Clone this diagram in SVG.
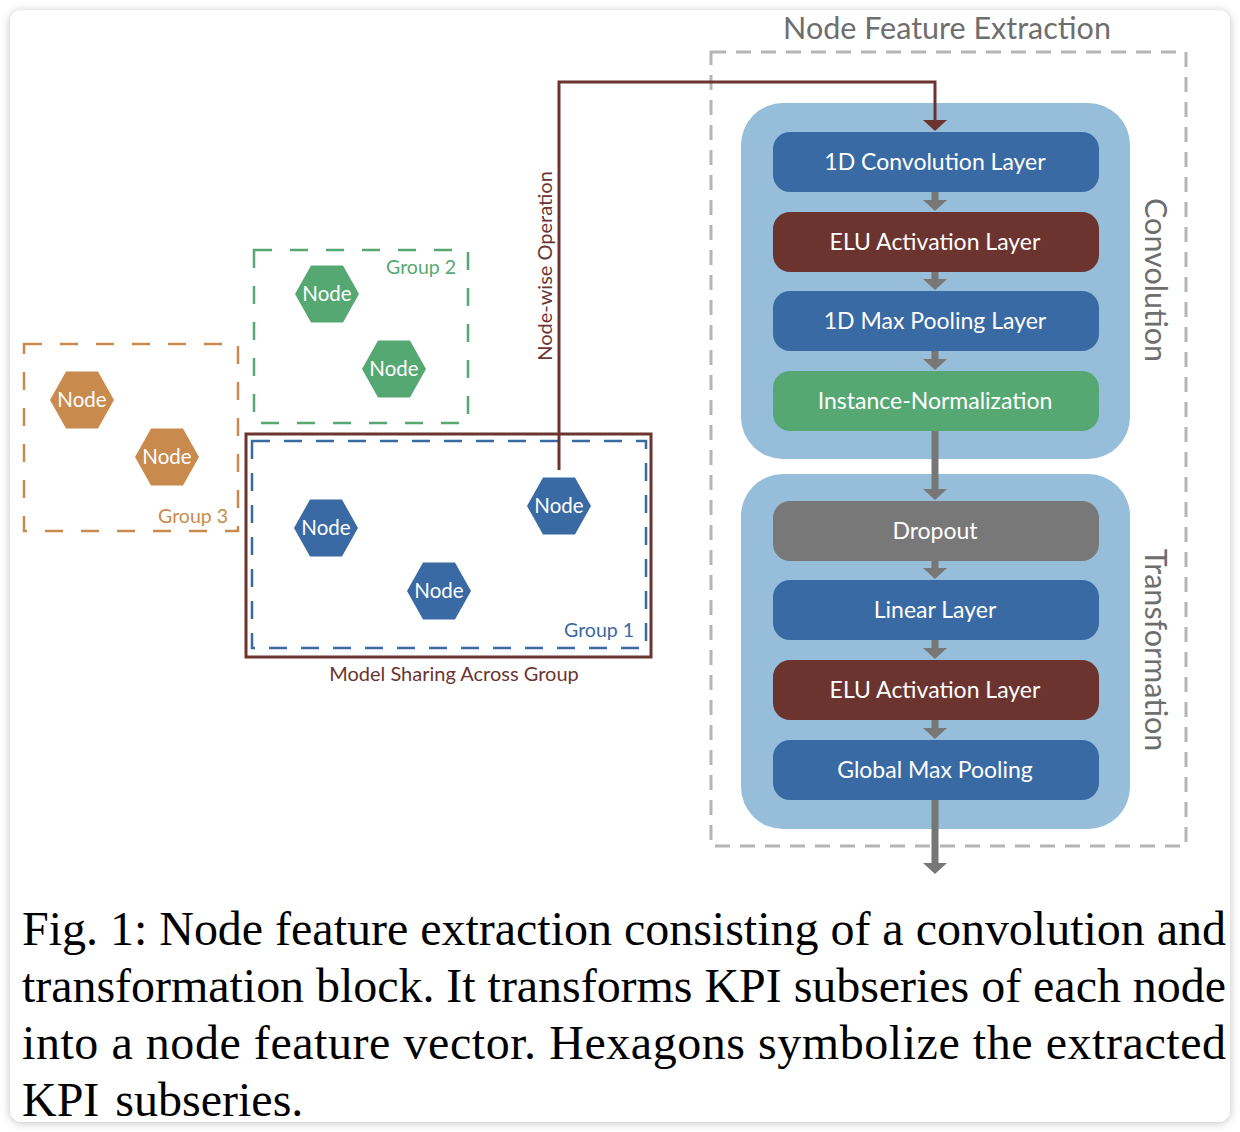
<svg xmlns="http://www.w3.org/2000/svg" width="1240" height="1132" viewBox="0 0 1240 1132">
<defs>
<filter id="sh" x="-5%" y="-5%" width="110%" height="110%">
<feDropShadow dx="0" dy="1" stdDeviation="4" flood-color="#000" flood-opacity="0.25"/>
</filter>
<style>
.ui{font-family:Lato,"Open Sans","DejaVu Sans",sans-serif;}
.lay{font-family:Lato,"Open Sans",sans-serif;font-size:23px;fill:#fff;text-anchor:middle;}
.hx{font-family:Lato,"Open Sans",sans-serif;font-size:20.5px;fill:#fff;text-anchor:middle;}
.blue{fill:#3a6aa3;}
.maroon{fill:#6b342f;}
.green{fill:#56a873;}
.gray{fill:#787878;}
.orange{fill:#c98a4e;}
.blk{fill:#96bdd9;}
.arr{fill:#777777;}
.cap{font-family:"Liberation Serif","Times New Roman",serif;font-size:48px;fill:#000;}
</style>
</defs>
<rect x="0" y="0" width="1240" height="1132" fill="#ffffff"/>
<rect x="10" y="10" width="1220" height="1112" rx="12" fill="#ffffff" filter="url(#sh)"/>

<!-- Node Feature Extraction container -->
<g id="nfe">
<rect x="711" y="52" width="475" height="794" fill="none" stroke="#b5b5b5" stroke-width="3" stroke-dasharray="15 10"/>
<text class="ui" x="947" y="39" font-size="30.5" fill="#6e6e6e" text-anchor="middle">Node Feature Extraction</text>
</g>

<g id="conv-block">
<rect class="blk" x="741" y="103" width="389" height="356" rx="42"/>
<text class="ui" font-size="30.5" fill="#6e6e6e" transform="translate(1145,280) rotate(90)" text-anchor="middle">Convolution</text>
</g>
<g id="trans-block">
<rect class="blk" x="741" y="474" width="389" height="355" rx="42"/>
<text class="ui" font-size="30.5" fill="#6e6e6e" transform="translate(1145,650) rotate(90)" text-anchor="middle">Transformation</text>
</g>

<g id="L1"><rect class="blue" x="773" y="132" width="326" height="60" rx="17"/><text class="lay" x="935" y="170">1D Convolution Layer</text></g>
<g id="L2"><rect class="maroon" x="773" y="212" width="326" height="60" rx="17"/><text class="lay" x="935" y="250">ELU Activation Layer</text></g>
<g id="L3"><rect class="blue" x="773" y="291" width="326" height="60" rx="17"/><text class="lay" x="935" y="329">1D Max Pooling Layer</text></g>
<g id="L4"><rect class="green" x="773" y="371" width="326" height="60" rx="17"/><text class="lay" x="935" y="409">Instance-Normalization</text></g>
<g id="L5"><rect class="gray" x="773" y="501" width="326" height="60" rx="17"/><text class="lay" x="935" y="539">Dropout</text></g>
<g id="L6"><rect class="blue" x="773" y="580" width="326" height="60" rx="17"/><text class="lay" x="935" y="618">Linear Layer</text></g>
<g id="L7"><rect class="maroon" x="773" y="660" width="326" height="60" rx="17"/><text class="lay" x="935" y="698">ELU Activation Layer</text></g>
<g id="L8"><rect class="blue" x="773" y="740" width="326" height="60" rx="17"/><text class="lay" x="935" y="778">Global Max Pooling</text></g>

<!-- Groups -->
<g id="group3">
<rect x="24" y="344" width="214" height="187" fill="none" stroke="#c98a4e" stroke-width="2.5" stroke-dasharray="18 18"/>
<text class="ui" x="228" y="523" font-size="19.5" fill="#c98a4e" text-anchor="end">Group 3</text>
</g>
<g id="group2">
<rect x="254" y="250" width="214" height="173" fill="none" stroke="#56a873" stroke-width="2.5" stroke-dasharray="18 18"/>
<text class="ui" x="456" y="274" font-size="19.5" fill="#56a873" text-anchor="end">Group 2</text>
</g>
<g id="sharing">
<rect x="246" y="434" width="405" height="223" fill="none" stroke="#6b342f" stroke-width="3"/>
<text class="ui" x="454" y="681" font-size="20" fill="#6b342f" text-anchor="middle">Model Sharing Across Group</text>
</g>
<g id="group1">
<rect x="252" y="441" width="394" height="207" fill="none" stroke="#3a6aa3" stroke-width="2.5" stroke-dasharray="18 14"/>
<text class="ui" x="634" y="637" font-size="19.5" fill="#3a6aa3" text-anchor="end">Group 1</text>
</g>

<!-- Hexagon nodes -->
<g id="n-g2a"><polygon class="green" points="295,294 311,265.5 343,265.5 359,294 343,322.5 311,322.5"/><text class="hx" x="327" y="301">Node</text></g>
<g id="n-g2b"><polygon class="green" points="362,369 378,340.5 410,340.5 426,369 410,397.5 378,397.5"/><text class="hx" x="394" y="376">Node</text></g>
<g id="n-g3a"><polygon class="orange" points="50,400 66,371.5 98,371.5 114,400 98,428.5 66,428.5"/><text class="hx" x="82" y="407">Node</text></g>
<g id="n-g3b"><polygon class="orange" points="135,457 151,428.5 183,428.5 199,457 183,485.5 151,485.5"/><text class="hx" x="167" y="464">Node</text></g>
<g id="n-g1a"><polygon class="blue" points="294,528 310,499.5 342,499.5 358,528 342,556.5 310,556.5"/><text class="hx" x="326" y="535">Node</text></g>
<g id="n-g1b"><polygon class="blue" points="407,591 423,562.5 455,562.5 471,591 455,619.5 423,619.5"/><text class="hx" x="439" y="598">Node</text></g>
<g id="n-g1c"><polygon class="blue" points="527,506 543,477.5 575,477.5 591,506 575,534.5 543,534.5"/><text class="hx" x="559" y="513">Node</text></g>

<!-- Connectors -->
<g id="connectors">
<polyline points="559,470 559,82 935,82 935,121" fill="none" stroke="#6b342f" stroke-width="3"/>
<polygon points="923,120 947,120 935,131" fill="#6b342f"/>
<text class="ui" font-size="20" fill="#6b342f" transform="translate(552,266) rotate(-90)" text-anchor="middle">Node-wise Operation</text>
<rect class="arr" x="931.5" y="192" width="7" height="9"/><polygon class="arr" points="923,200 947,200 935,211"/>
<rect class="arr" x="931.5" y="272" width="7" height="8"/><polygon class="arr" points="923,279 947,279 935,290"/>
<rect class="arr" x="931.5" y="351" width="7" height="9"/><polygon class="arr" points="923,359 947,359 935,370"/>
<rect class="arr" x="931.5" y="431" width="7" height="59"/><polygon class="arr" points="923,489 947,489 935,500"/>
<rect class="arr" x="931.5" y="561" width="7" height="8"/><polygon class="arr" points="923,568 947,568 935,579"/>
<rect class="arr" x="931.5" y="640" width="7" height="9"/><polygon class="arr" points="923,648 947,648 935,659"/>
<rect class="arr" x="931.5" y="720" width="7" height="9"/><polygon class="arr" points="923,728 947,728 935,739"/>
<rect class="arr" x="931.5" y="800" width="7" height="64"/><polygon class="arr" points="923,863 947,863 935,874"/>
</g>

<!-- Caption -->
<g id="caption">
<text class="cap" x="22" y="945" textLength="1204" lengthAdjust="spacing">Fig. 1: Node feature extraction consisting of a convolution and</text>
<text class="cap" x="22" y="1002" textLength="1204" lengthAdjust="spacing">transformation block. It transforms KPI subseries of each node</text>
<text class="cap" x="22" y="1059" textLength="1204" lengthAdjust="spacing">into a node feature vector. Hexagons symbolize the extracted</text>
<text class="cap" x="22" y="1116" word-spacing="4">KPI subseries.</text>
</g>
</svg>
